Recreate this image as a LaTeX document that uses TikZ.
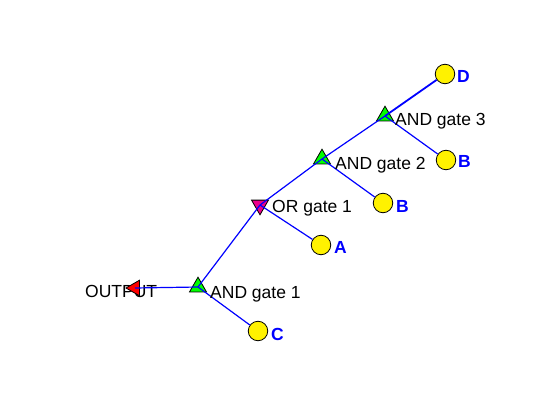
\documentclass[tikz,border=0pt]{standalone}
\usepackage{fontspec}
\setmainfont{Liberation Sans}
\usetikzlibrary{shapes.geometric}

\begin{document}
\begin{tikzpicture}[x=1pt,y=-1pt,
    gate/.style={regular polygon,regular polygon sides=3,draw=black,line width=0.8pt,inner sep=0pt,minimum size=19.6pt},
    andgate/.style={gate,fill=green},
    orgate/.style={gate,fill=magenta,shape border rotate=180},
    outgate/.style={gate,fill=red,shape border rotate=90,minimum size=18pt},
    leaf/.style={circle,draw=black,line width=0.8pt,fill=yellow,inner sep=0pt,minimum size=19.5pt},
    txt/.style={anchor=base west,inner sep=0pt,font=\fontsize{17.5}{20}\selectfont},
    leaftxt/.style={txt,text=blue,font=\fontsize{17.5}{20}\selectfont\bfseries},
    link/.style={draw=blue,line width=1.2pt}]
    \useasboundingbox (0,0) rectangle (560,420);
    % Draw output label
    \node[txt] (outtxt) at (85,297) {OUTPUT};
    % Draw gates
    \node[outgate] (out) at (135,288) {};
    \node[andgate] (and1) at (198,287) {};
    \node[orgate] (or1) at (260,205) {};
    \node[andgate] (and2) at (322,159) {};
    \node[andgate] (and3) at (385,116) {};
    % Draw inputs
    \node[leaf] (c) at (258,331) {};
    \node[leaf] (a) at (321,245) {};
    \node[leaf] (b1) at (383,203) {};
    \node[leaf] (d) at (445,74) {};
    \node[leaf] (b2) at (446,160) {};
    % Draw links
    \draw[link] (out.center) -- (and1.center);
    \draw[link] (and1.center) -- (or1.center);
    \draw[link] (and1.center) -- (c);
    \draw[link] (or1.center) -- (and2.center);
    \draw[link] (or1.center) -- (a);
    \draw[link] (and2.center) -- (and3.center);
    \draw[link] (and2.center) -- (b1);
    \draw[link,line width=1.8pt] (and3.center) -- (d);
    \draw[link] (and3.center) -- (b2);
    % Draw labels
    \node[txt] (and1txt) at (210,298) {AND gate 1};
    \node[txt] (or1txt) at (272,212) {OR gate 1};
    \node[txt] (and2txt) at (335,169) {AND gate 2};
    \node[txt] (and3txt) at (395,125) {AND gate 3};
    \node[leaftxt] (ctxt) at (271,340) {C};
    \node[leaftxt] (atxt) at (334,253) {A};
    \node[leaftxt] (b1txt) at (396,212) {B};
    \node[leaftxt] (dtxt) at (457,83) {D};
    \node[leaftxt] (b2txt) at (458,167) {B};
\end{tikzpicture}
\end{document}
